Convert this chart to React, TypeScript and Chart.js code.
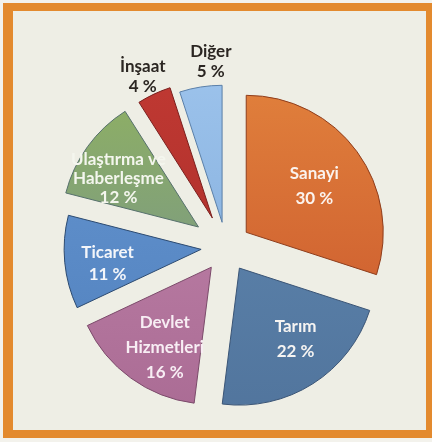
import React, { useEffect, useRef } from "react";
import { Chart, registerables } from "chart.js";

Chart.register(...registerables);

// ---- data ----
const categories = [
  "Sanayi",
  "Tarım",
  "Devlet Hizmetleri",
  "Ticaret",
  "Ulaştırma ve Haberleşme",
  "İnşaat",
  "Diğer",
];
const shares = [30, 22, 16, 11, 12, 4, 5];
const labelLines = [
  ["Sanayi"],
  ["Tarım"],
  ["Devlet", "Hizmetleri"],
  ["Ticaret"],
  ["Ulaştırma ve", "Haberleşme"],
  ["İnşaat"],
  ["Diğer"],
];

// ---- style ----
const topColors = ["#e4863e", "#6189b2", "#c387ad", "#6797d2", "#94b65a", "#c43b34", "#a0c6ee"];
const bottomColors = ["#c6502a", "#4f729a", "#a76891", "#4e7ebb", "#6e8b98", "#a32a27", "#7ca7d7"];
const edgeColors = ["#8e3d1c", "#3a5475", "#7b4a6a", "#2c4a70", "#56706c", "#7a1e1c", "#5a7fa8"];
const explode = [25, 25, 25, 25, 34, 32, 25];
const labelFrac = [0.6, 0.66, 0.68, 0.69, 0.684, 1.15, 1.18];
const labelTurn = [2, -6, -6, -3, -4.7, -1, 5]; // degrees
const lineHeights = [25, 25, 25, 22, 19, 20, 20];
const labelColors = ["#fbf3ee", "#f6f4f2", "#f8eef4", "#f4f6fa", "#f4f6ee", "#2b2622", "#2b2622"];

const explodePlugin = {
  id: "explodeSlices",
  beforeDatasetDraw(chart: any, args: any) {
    const meta = args.meta;
    const ctx = chart.ctx as CanvasRenderingContext2D;
    meta.data.forEach((arc: any, i: number) => {
      const p = arc.getProps(["startAngle", "endAngle"], true);
      const mid = (p.startAngle + p.endAngle) / 2;
      ctx.save();
      ctx.translate(Math.cos(mid) * explode[i], Math.sin(mid) * explode[i]);
      arc.draw(ctx, chart.chartArea);
      ctx.restore();
    });
    return false;
  },
};

const labelPlugin = {
  id: "sliceLabels",
  afterDatasetsDraw(chart: any) {
    const meta = chart.getDatasetMeta(0);
    const ctx = chart.ctx as CanvasRenderingContext2D;
    ctx.save();
    ctx.font = "bold 17px Lato";
    ctx.textAlign = "center";
    ctx.textBaseline = "middle";
    meta.data.forEach((arc: any, i: number) => {
      const p = arc.getProps(["x", "y", "startAngle", "endAngle", "outerRadius"], true);
      const mid = (p.startAngle + p.endAngle) / 2;
      const ex = explode[i];
      const cx = p.x + Math.cos(mid) * ex;
      const cy = p.y + Math.sin(mid) * ex;
      const a = mid + (labelTurn[i] * Math.PI) / 180;
      const r = p.outerRadius * labelFrac[i];
      const x = cx + Math.cos(a) * r;
      const y = cy + Math.sin(a) * r;
      const lines = [...labelLines[i], `${shares[i]} %`];
      const lh = lineHeights[i];
      ctx.fillStyle = labelColors[i];
      lines.forEach((t, k) => {
        ctx.fillText(t, x, y + (k - (lines.length - 1) / 2) * lh);
      });
    });
    ctx.restore();
  },
};

export default function App() {
  const ref = useRef<HTMLCanvasElement | null>(null);

  useEffect(() => {
    if (!ref.current) return;
    const chart = new Chart(ref.current, {
      type: "pie",
      data: {
        labels: categories,
        datasets: [
          {
            data: shares,
            backgroundColor: (c: any) => {
              const i = c.dataIndex;
              const area = c.chart.chartArea;
              if (!area) return topColors[i];
              const g = c.chart.ctx.createLinearGradient(0, area.top, 0, area.bottom);
              g.addColorStop(0, topColors[i]);
              g.addColorStop(1, bottomColors[i]);
              return g;
            },
            borderColor: edgeColors,
            borderWidth: 1,
          },
        ],
      },
      options: {
        responsive: false,
        animation: false,
        radius: 137,
        rotation: 0,
        events: [],
        layout: { padding: { left: 20, top: 52, right: 0, bottom: 0 } },
        plugins: {
          legend: { display: false },
          tooltip: { enabled: false },
        },
      } as any,
      plugins: [explodePlugin, labelPlugin],
    });
    return () => chart.destroy();
  }, []);

  return (
    <div
      style={{
        position: "absolute",
        left: 0,
        top: 0,
        width: 432,
        height: 442,
        overflow: "hidden",
        background: "#f3f2ec",
      }}
    >
      <div
        style={{
          position: "absolute",
          left: 3,
          top: 3,
          width: 429,
          height: 435,
          boxSizing: "border-box",
          borderStyle: "solid",
          borderColor: "#e38a2e",
          borderWidth: "8px 6px 8px 10px",
          background: "#eeeee5",
        }}
      />
      <canvas
        ref={ref}
        width={432}
        height={442}
        style={{ position: "absolute", left: 0, top: 0, display: "block" }}
      />
    </div>
  );
}
